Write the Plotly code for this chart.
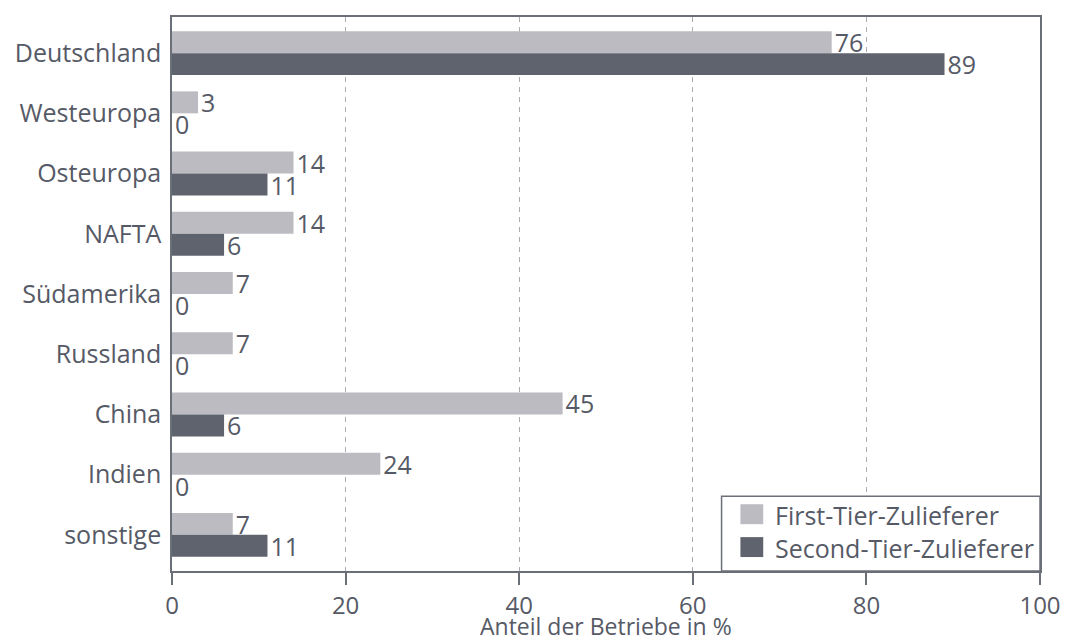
import plotly.graph_objects as go

categories = ["Deutschland", "Westeuropa", "Osteuropa", "NAFTA", "Südamerika",
              "Russland", "China", "Indien", "sonstige"]
first_tier = [76, 3, 14, 14, 7, 7, 45, 24, 7]
second_tier = [89, 0, 11, 6, 0, 0, 6, 0, 11]
series_names = ["First-Tier-Zulieferer", "Second-Tier-Zulieferer"]
x_ticks = [0, 20, 40, 60, 80, 100]
x_title = "Anteil der Betriebe in %"

TEXT = "#565a66"
LIGHT = "#bcbbc1"
DARK = "#5f636e"
LINE = "#6b6f78"
FONT = "Open Sans"

# The page body has an 8px default margin; size the figure so it fits the window.
OFF = 8
FIG_W, FIG_H = 1069 - OFF, 640 - OFF
# plot area in page pixels
L, R, T, B = 165, 1040, 15, 571
W_PLOT, H_PLOT = R - L, B - T


def px(x):
    return (x - L) / W_PLOT


def py(y):
    return (B - y) / H_PLOT


fig = go.Figure()
for vals, color, name in [(first_tier, LIGHT, series_names[0]),
                          (second_tier, DARK, series_names[1])]:
    fig.add_trace(go.Bar(
        y=categories, x=vals, orientation="h", name=name,
        marker=dict(color=color, line=dict(width=0)),
        text=[str(v) for v in vals], textposition="outside", constraintext="none",
        cliponaxis=False, textfont=dict(size=25, color=TEXT, family=FONT),
        showlegend=False,
    ))

# custom legend (box, swatches, labels)
shapes = [
    dict(type="rect", xref="paper", yref="paper", x0=px(719), x1=1.0, y0=0, y1=py(496),
         line=dict(color=LINE, width=1.5), fillcolor="white", layer="above"),
]
annotations = []
for i, (color, name) in enumerate([(LIGHT, series_names[0]), (DARK, series_names[1])]):
    cy = 514 + 33 * i
    shapes.append(dict(type="rect", xref="paper", yref="paper",
                       x0=px(738), x1=px(761), y0=py(cy + 10), y1=py(cy - 10),
                       line=dict(width=0), fillcolor=color, layer="above"))
    annotations.append(dict(xref="paper", yref="paper", x=px(771), y=py(cy + 1),
                            xanchor="left", yanchor="middle", showarrow=False,
                            text=name, font=dict(size=25, color=TEXT, family=FONT)))

# x-axis title placed as annotation to sit tight under tick labels
annotations.append(dict(xref="paper", yref="paper", x=0.5, y=py(626),
                        xanchor="center", yanchor="middle", showarrow=False,
                        text=x_title, font=dict(size=23, color=TEXT, family=FONT)))

fig.update_layout(
    width=FIG_W, height=FIG_H,
    margin=dict(l=L - OFF, r=1069 - R, t=T - OFF, b=640 - B),
    paper_bgcolor="white", plot_bgcolor="white",
    barmode="group", bargap=0.27, bargroupgap=0,
    font=dict(family=FONT, color=TEXT, size=25),
    showlegend=False,
    shapes=shapes, annotations=annotations,
    xaxis=dict(
        range=[0, 100], tickvals=x_ticks, ticktext=[str(t) for t in x_ticks],
        showgrid=True, gridcolor="#acacb0", griddash="5px,5px", gridwidth=1.2,
        showline=True, linecolor=LINE, linewidth=1.5, mirror=True,
        ticks="outside", ticklen=12, tickcolor=LINE, tickwidth=1.5,
        tickfont=dict(size=24, color=TEXT),
        zeroline=False,
    ),
    yaxis=dict(
        categoryorder="array", categoryarray=categories,
        autorange=False, range=[8.6, -0.6],
        showline=True, linecolor=LINE, linewidth=1.5, mirror=True,
        ticks="", tickfont=dict(size=25, color=TEXT), ticklabelstandoff=4,
        showgrid=False,
    ),
)

fig.write_html("out.html")
